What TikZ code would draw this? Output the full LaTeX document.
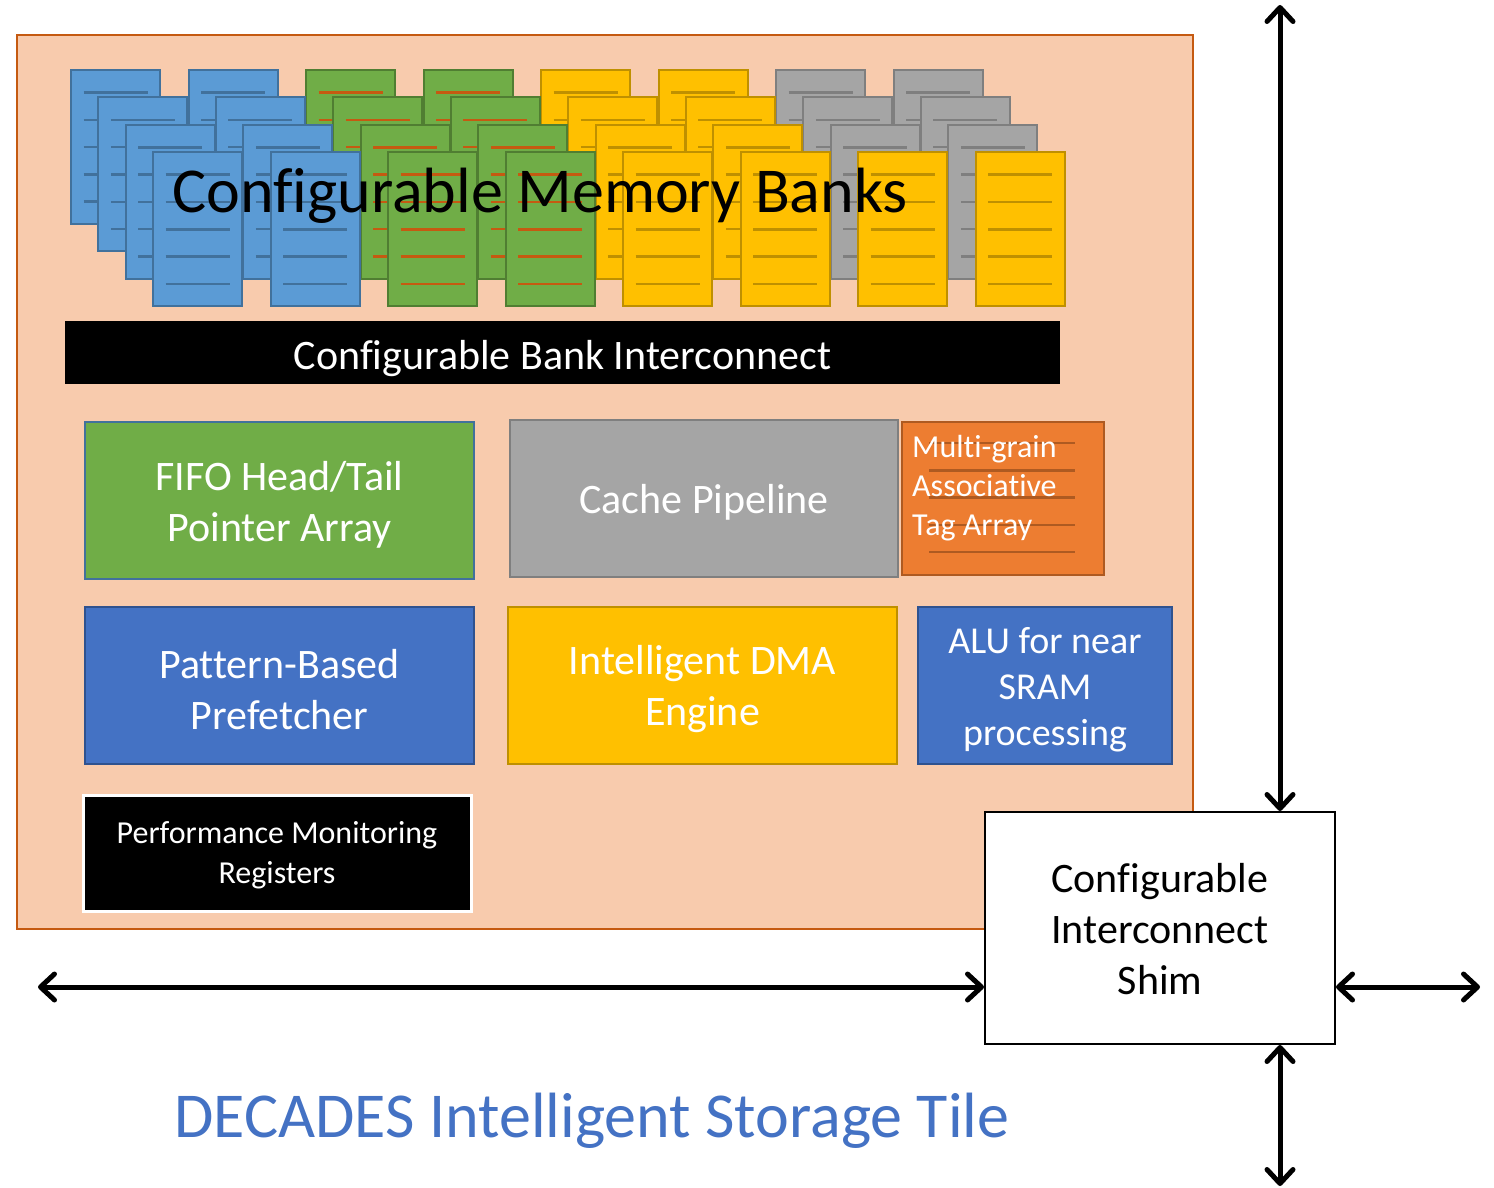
\documentclass[tikz,border=0pt]{standalone}
\usepackage{fontspec}
\setmainfont{Carlito}[Ligatures=NoCommon]
\usetikzlibrary{arrows.meta}
\definecolor{peach}{HTML}{F8CBAD}
\definecolor{peachline}{HTML}{C55A11}
\definecolor{pgBfill}{HTML}{5B9BD5}
\definecolor{pgBline}{HTML}{41719C}
\definecolor{pgGfill}{HTML}{70AD47}
\definecolor{pgGline}{HTML}{507E32}
\definecolor{pgGrule}{HTML}{C55A11}
\definecolor{pgYfill}{HTML}{FFC000}
\definecolor{pgYline}{HTML}{BF9000}
\definecolor{pgKfill}{HTML}{A5A5A5}
\definecolor{pgKline}{HTML}{7F7F7F}
\definecolor{tagfill}{HTML}{ED7D31}
\definecolor{tagline}{HTML}{AE5A21}
\definecolor{boxblue}{HTML}{4472C4}
\definecolor{boxblueline}{HTML}{2F528F}
\begin{document}
\begin{tikzpicture}[x=1pt,y=-1pt,
  pageB/.style={fill=pgBfill,draw=pgBline,line width=2pt},
  pageG/.style={fill=pgGfill,draw=pgGline,line width=2pt},
  pageY/.style={fill=pgYfill,draw=pgYline,line width=2pt},
  pageK/.style={fill=pgKfill,draw=pgKline,line width=2pt},
  pruleB/.style={draw=pgBline,line width=2.5pt},
  pruleG/.style={draw=pgGrule,line width=2.5pt},
  pruleY/.style={draw=pgYline,line width=2.5pt},
  pruleK/.style={draw=pgKline,line width=2.5pt},
  block/.style={rectangle,line width=2pt,inner sep=0pt},
  lbl/.style={align=center,text=white,inner sep=0pt,yshift=-4pt,
    font=\fontsize{42}{51}\selectfont},
  bidir/.style={line width=5pt,
    arrows={Straight Barb[length=14pt,width=26pt,round]-Straight Barb[length=14pt,width=26pt,round]}}
]
\useasboundingbox (0,0) rectangle (1494,1188);
\fill[white] (0,0) rectangle (1494,1188);

% tile background
\node[rectangle,fill=peach,draw=peachline,line width=2pt,minimum width=1176pt,
  minimum height=894pt,inner sep=0pt] (tile) at (605,482) {};

% memory bank pages
\foreach \r in {0,...,3}{
  \foreach \i/\c in {0/B,1/B,2/G,3/G,4/Y,5/Y,6/K,7/K}{
    \pgfmathsetmacro\px{71+117.5*\i+27.4*\r}
    \pgfmathsetmacro\py{70+27.4*\r}
    \edef\cc{\c}
    \ifnum\r=3 \ifnum\i>5 \def\cc{Y}\fi\fi
    \draw[page\cc] (\px,\py) rectangle ++(89,154);
    \foreach \k in {0,...,4}{
      \draw[prule\cc] (\px+12.5,\py+22.5+27.3*\k) -- ++(64,0);
    }
  }
}

\node[font=\fontsize{64}{70}\selectfont,text=black] (title) at (540,196) {Configurable Memory Banks};

\node[rectangle,fill=black,minimum width=995pt,minimum height=63pt,inner sep=0pt,
  label={[lbl,yshift=-2pt,font=\fontsize{42}{48}\selectfont]center:Configurable Bank Interconnect}]
  (bar) at (562.5,352.5) {};

\node[block,fill=pgGfill,draw=pgBline,minimum width=389pt,minimum height=157pt,
  label={[lbl]center:FIFO Head/Tail\\Pointer Array}] (fifo) at (279.5,500.5) {};
\node[block,fill=pgKfill,draw=pgKline,minimum width=388pt,minimum height=157pt,
  label={[lbl]center:Cache Pipeline}] (cache) at (704,498.5) {};
\node[block,fill=tagfill,draw=tagline,minimum width=202pt,minimum height=153pt] (tag)
  at (1003,498.5) {};
\foreach \k in {0,...,4}{
  \draw[tagline,line width=2.5pt] ([xshift=28pt,yshift=-22pt-27.3pt*\k]tag.north west) -- ++(146,0);
}
\node[anchor=west,align=left,text=white,inner sep=0pt,font=\fontsize{32}{39}\selectfont] (tagtxt)
  at (912,488) {Multi-grain\\Associative\\Tag Array};

\node[block,fill=boxblue,draw=boxblueline,minimum width=389pt,minimum height=157pt,
  label={[lbl]center:Pattern-Based\\Prefetcher}] (pref) at (279.5,685.5) {};
\node[block,fill=pgYfill,draw=pgYline,minimum width=389pt,minimum height=157pt,
  label={[lbl]center:Intelligent DMA\\Engine}] (dma) at (702.5,685.5) {};
\node[block,fill=boxblue,draw=boxblueline,minimum width=254pt,minimum height=157pt,
  label={[lbl,font=\fontsize{38}{46}\selectfont]center:ALU for near\\SRAM\\processing}] (alu)
  at (1045,685.5) {};
\node[block,fill=black,draw=white,line width=3pt,minimum width=388pt,minimum height=116pt,
  label={[lbl,yshift=2pt,font=\fontsize{32}{40}\selectfont]center:Performance Monitoring\\Registers}] (perf)
  at (277,853) {};

\node[block,fill=white,draw=black,minimum width=350pt,minimum height=232pt,
  label={[lbl,text=black,yshift=3pt]center:Configurable\\Interconnect\\Shim}] (shim)
  at (1160,928) {};

% connectors
\coordinate (topend) at (1280,5);
\coordinate (leftend) at (38,987);
\coordinate (rightend) at (1480,987);
\coordinate (botend) at (1280,1186);
\draw[bidir] (topend) -- (topend |- shim.north);
\draw[bidir] (leftend) -- (leftend -| shim.west);
\draw[bidir] (rightend -| shim.east) -- (rightend);
\draw[bidir] (botend |- shim.south) -- (botend);

\node[text=boxblue,font=\fontsize{64}{70}\selectfont] (caption) at (592,1121)
  {DECADES Intelligent Storage Tile};
\end{tikzpicture}
\end{document}
